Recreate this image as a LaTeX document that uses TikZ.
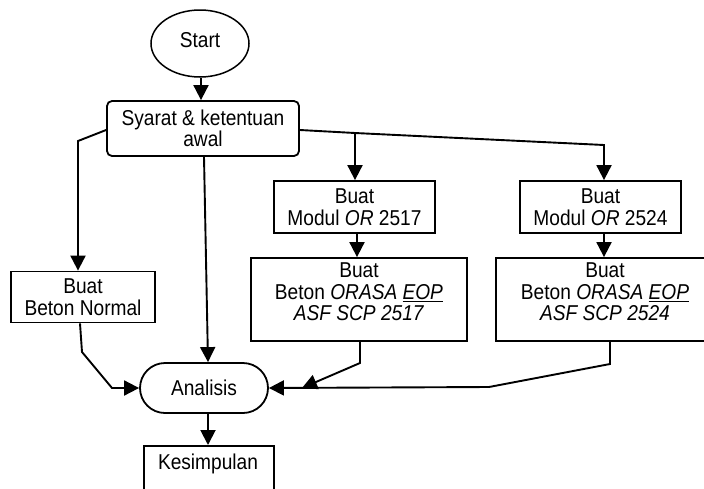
\documentclass[tikz,border=0pt]{standalone}
\usepackage{fontspec}
\setmainfont[FakeStretch=0.89]{Liberation Sans}
\usetikzlibrary{arrows.meta,shapes.geometric,shapes.misc,calc}
\begin{document}
\begin{tikzpicture}[x=1pt,y=-1pt,
  every node/.style={font=\fontsize{21.5}{21.5}\selectfont, inner sep=0pt},
  boxs/.style={draw, line width=1.8pt, rectangle},
  txt/.style={align=center},
  conn/.style={line width=1.9pt},
  arr/.style={conn, -{Triangle[length=15pt,width=15pt]}}]
\useasboundingbox (0,0) rectangle (704,488);
% nodes
\node[draw, line width=1.5pt, ellipse, minimum width=98pt, minimum height=67pt] (start) at (200,43.5) {};
\node (starttext) at (200,40) {Start};
\node[boxs, rounded corners=5pt, minimum width=192pt, minimum height=55pt, txt] (syarat) at (203,128.5) {Syarat \& ketentuan\\awal};
\node[boxs, minimum width=161pt, minimum height=52pt, txt] (modA) at (354.5,207) {Buat\\Modul \textit{OR} 2517};
\node[boxs, minimum width=161pt, minimum height=52pt, txt] (modB) at (600.5,207) {Buat\\Modul \textit{OR} 2524};
\node[boxs, minimum width=216pt, minimum height=83pt] (betA) at (359,299.5) {};
\node[txt] (betAtext) at (359,292) {Buat\\Beton \textit{ORASA \underline{EOP}}\\\textit{ASF SCP 2517}};
\node[boxs, minimum width=218pt, minimum height=83pt] (betB) at (605,299.5) {};
\node[txt] (betBtext) at (605,292) {Buat\\Beton \textit{ORASA \underline{EOP}}\\\textit{ASF SCP 2524}};
\node[boxs, minimum width=144pt, minimum height=51pt, txt] (normal) at (83,297) {Buat\\Beton Normal};
\node[draw, line width=1.8pt, rounded rectangle, minimum width=128pt, minimum height=50pt] (analisis) at (204,388) {Analisis};
\node[boxs, anchor=north west, minimum width=130pt, minimum height=70pt] (kes) at (143,445) {};
\node (kestext) at (208,464) {Kesimpulan};
% connector waypoints
\coordinate (r1) at (355,133);
\coordinate (r2) at (604,145);
\coordinate (l1) at (78,141);
\coordinate (n1) at (82,352);
\coordinate (n2) at (112,388);
\coordinate (a1) at (360,363);
\coordinate (a2) at (302,388);
\coordinate (b1) at (610,364);
\coordinate (b2) at (489,387);
% connectors
\draw[arr] (start.south -| 201,0) -- (syarat.north -| 201,0);
\draw[arr] (syarat.west |- 0,130) -- (l1) -- (normal.north -| l1);
\draw[arr] (syarat.south -| 204,0) -- (analisis.north -| 208,0);
\draw[conn] (syarat.east |- 0,130) -- (r1);
\draw[arr] (r1) -- (r2) -- (modB.north -| r2);
\draw[arr] (r1) -- (modA.north -| r1);
\draw[arr] (modA.south -| 357,0) -- (betA.north -| 357,0);
\draw[arr] (modB.south -| 604,0) -- (betB.north -| 604,0);
\draw[arr] (normal.south -| 80,0) -- (n1) -- (n2) -- (analisis.west);
\draw[arr] (betA.south -| a1) -- (a1) -- (a2);
\draw[arr] (betB.south -| b1) -- (b1) -- (b2) -- (analisis.east);
\draw[arr] (analisis.south -| 208,0) -- (kes.north -| 208,0);
\end{tikzpicture}
\end{document}
